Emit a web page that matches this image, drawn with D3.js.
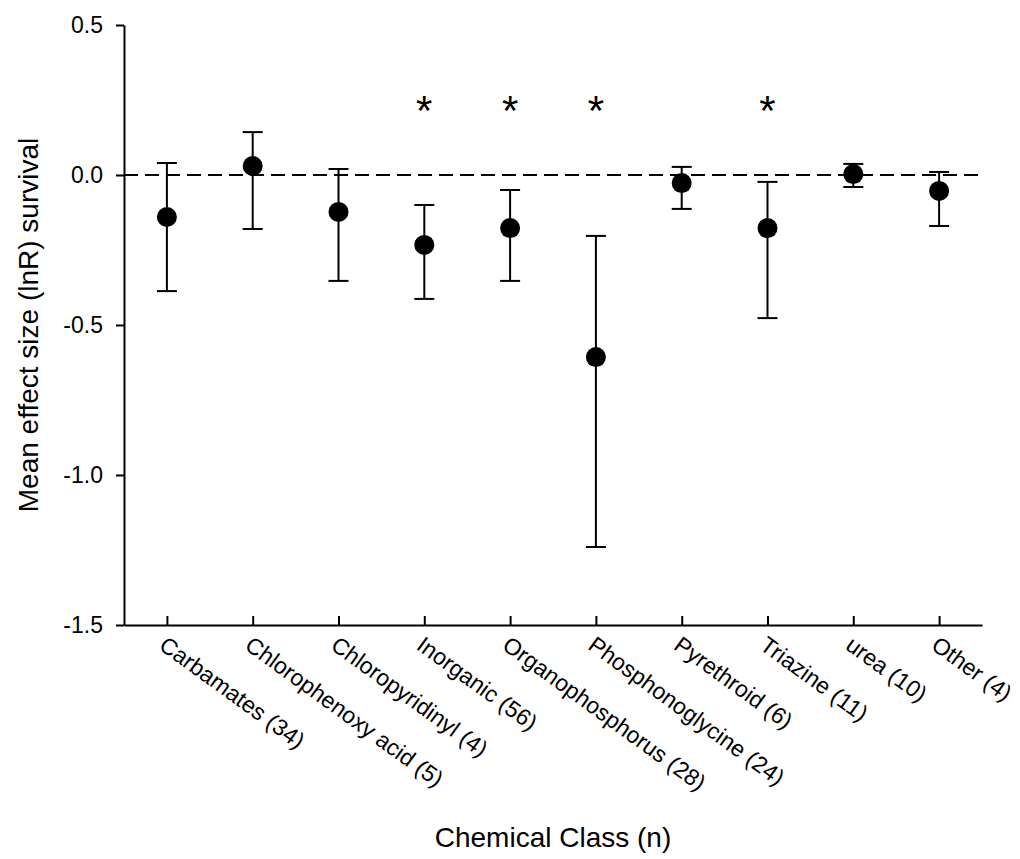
<!DOCTYPE html>
<html>
<head>
<meta charset="utf-8">
<script src="https://cdn.jsdelivr.net/npm/d3@7"></script>
<style>
  body { margin: 0; background: #fff; }
  text { font-family: 'Liberation Sans', Arial, sans-serif; fill: #000; }
</style>
</head>
<body>
<div id="chart"></div>
<script>
'use strict'

const categories = ['Carbamates (34)', 'Chlorophenoxy acid (5)', 'Chloropyridinyl (4)', 'Inorganic (56)',
  'Organophosphorus (28)', 'Phosphonoglycine (24)', 'Pyrethroid (6)', 'Triazine (11)', 'urea (10)', 'Other (4)']
const means = [-0.14, 0.03, -0.123, -0.233, -0.177, -0.607, -0.027, -0.177, 0.003, -0.053]
const upper = [0.04, 0.143, 0.02, -0.1, -0.05, -0.203, 0.027, -0.023, 0.037, 0.01]
const lower = [-0.387, -0.18, -0.353, -0.413, -0.353, -1.24, -0.113, -0.477, -0.04, -0.17]
const significant = ['Inorganic (56)', 'Organophosphorus (28)', 'Phosphonoglycine (24)', 'Triazine (11)']
const yTicks = [0.5, 0, -0.5, -1.0, -1.5]

const data = categories.map((c, i) => ({ cat: c, mean: means[i], hi: upper[i], lo: lower[i] }))

const width = 1020
const height = 859
const margin = { top: 25, bottom: 234, left: 124, right: 38 }

const svg = d3.select('#chart')
  .append('svg')
  .attr('width', width)
  .attr('height', height)

const xScale = d3.scalePoint()
  .domain(categories)
  .range([margin.left, width - margin.right])
  .padding(0.5)

const yScale = d3.scaleLinear()
  .domain([-1.5, 0.5])
  .range([height - margin.bottom, margin.top])

// y axis
const yAxis = svg.append('g')
  .attr('transform', `translate(${margin.left}, 0)`)
  .call(d3.axisLeft(yScale).tickValues(yTicks).tickSize(8).tickSizeOuter(0).tickPadding(13)
    .tickFormat(d => d.toFixed(1)))
yAxis.selectAll('path, line').attr('stroke', '#000').attr('stroke-width', 2)
yAxis.selectAll('text').style('font-size', '23px')

// x axis, ticks pointing in
const xAxis = svg.append('g')
  .attr('transform', `translate(0, ${yScale(-1.5)})`)
  .call(d3.axisBottom(xScale).tickSize(-9).tickSizeOuter(0))
xAxis.selectAll('path, line').attr('stroke', '#000').attr('stroke-width', 2)
xAxis.selectAll('text')
  .style('font-size', '23px')
  .attr('text-anchor', 'start')
  .attr('y', 0)
  .attr('dy', '0.71em')
  .attr('transform', 'translate(0, 10) rotate(36)')

// zero line
svg.append('line')
  .attr('x1', margin.left)
  .attr('x2', width - margin.right)
  .attr('y1', yScale(0))
  .attr('y2', yScale(0))
  .attr('stroke', '#000')
  .attr('stroke-width', 2)
  .attr('stroke-dasharray', '14,7')

// error bars
svg.selectAll('.whisker')
  .data(data)
  .enter()
  .append('line')
  .attr('class', 'whisker')
  .attr('x1', d => xScale(d.cat))
  .attr('x2', d => xScale(d.cat))
  .attr('y1', d => yScale(d.hi))
  .attr('y2', d => yScale(d.lo))
  .attr('stroke', '#000')
  .attr('stroke-width', 2)

svg.selectAll('.cap-hi')
  .data(data)
  .enter()
  .append('line')
  .attr('x1', d => xScale(d.cat) - 10)
  .attr('x2', d => xScale(d.cat) + 10)
  .attr('y1', d => yScale(d.hi))
  .attr('y2', d => yScale(d.hi))
  .attr('stroke', '#000')
  .attr('stroke-width', 2)

svg.selectAll('.cap-lo')
  .data(data)
  .enter()
  .append('line')
  .attr('x1', d => xScale(d.cat) - 10)
  .attr('x2', d => xScale(d.cat) + 10)
  .attr('y1', d => yScale(d.lo))
  .attr('y2', d => yScale(d.lo))
  .attr('stroke', '#000')
  .attr('stroke-width', 2)

svg.selectAll('.dot')
  .data(data)
  .enter()
  .append('circle')
  .attr('cx', d => xScale(d.cat))
  .attr('cy', d => yScale(d.mean))
  .attr('r', 10)
  .style('fill', '#000')

// significance stars
svg.selectAll('.star')
  .data(significant)
  .enter()
  .append('text')
  .attr('x', d => xScale(d))
  .attr('y', yScale(0.235) + 20)
  .attr('text-anchor', 'middle')
  .style('font-size', '42px')
  .text('*')

// axis titles
svg.append('text')
  .attr('x', (margin.left + width - margin.right) / 2)
  .attr('y', 847)
  .attr('text-anchor', 'middle')
  .style('font-size', '28px')
  .text('Chemical Class (n)')

svg.append('text')
  .attr('transform', `translate(38, ${(yScale(0.5) + yScale(-1.5)) / 2}) rotate(-90)`)
  .attr('text-anchor', 'middle')
  .style('font-size', '28px')
  .text('Mean effect size (lnR) survival')
</script>
</body>
</html>
